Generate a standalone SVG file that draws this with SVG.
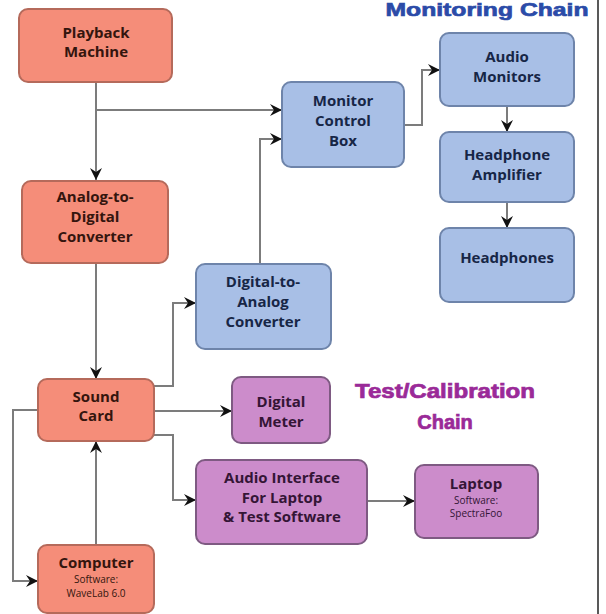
<svg xmlns="http://www.w3.org/2000/svg" width="606" height="614" viewBox="0 0 606 614">
<style>
.n{stroke-width:2}
.red{fill:#F58D79;stroke:#B56A5B}
.blue{fill:#A8BFE6;stroke:#6E84AA}
.pur{fill:#CC8CCB;stroke:#7E5A82}
.t{font-family:"Open Sans","Liberation Sans",sans-serif;font-weight:700;font-size:15px;text-anchor:middle}
.tr{fill:#34150E}
.tb{fill:#172646}
.tp{fill:#341536}
.s{font-family:"Open Sans","Liberation Sans",sans-serif;font-weight:400;font-size:10px;text-anchor:middle}
.c{fill:none;stroke:#7C7C7C;stroke-width:2;marker-end:url(#ah)}
.title{font-family:"Liberation Sans",Arial,sans-serif;font-weight:700;text-anchor:middle;stroke-width:0.7}
</style>
<defs>
<marker id="ah" markerUnits="userSpaceOnUse" markerWidth="14" markerHeight="12" refX="12" refY="6" orient="auto">
<path d="M0,0 L12,6 L0,12 L4,6 z" fill="#111"/>
</marker>
</defs>
<rect width="606" height="614" fill="#fff"/>
<line x1="598" y1="0" x2="598" y2="614" stroke="#222" stroke-width="1.5"/>
<text class="title" x="487" y="16" font-size="19" fill="#2B4BA8" stroke="#2B4BA8" textLength="203" lengthAdjust="spacingAndGlyphs">Monitoring Chain</text>
<text class="title" x="445" y="398" font-size="20" fill="#9A2A98" stroke="#9A2A98" textLength="180" lengthAdjust="spacingAndGlyphs">Test/Calibration</text>
<text class="title" x="445" y="429" font-size="20" fill="#9A2A98" stroke="#9A2A98">Chain</text>

<g id="connectors">
<path class="c" d="M96,82 V180"/>
<path class="c" d="M96,110 H282"/>
<path class="c" d="M96,263 V379"/>
<path class="c" d="M154,386 H173 V303 H196"/>
<path class="c" d="M260,264 V139 H282"/>
<path class="c" d="M404,125 H422 V70 H440"/>
<path class="c" d="M507,106 V132"/>
<path class="c" d="M507,202 V228"/>
<path class="c" d="M154,411 H232"/>
<path class="c" d="M154,435 H173 V500 H196"/>
<path class="c" d="M367,501 H415"/>
<path class="c" d="M96,545 V441"/>
<path class="c" d="M38,410 H13 V581 H38"/>
</g>

<g id="playback">
<rect class="n red" x="19" y="9" width="153" height="73" rx="9"/>
<text class="t tr" x="96" y="38">Playback</text>
<text class="t tr" x="96" y="57">Machine</text>
</g>
<g id="adc">
<rect class="n red" x="22" y="181" width="146" height="82" rx="9"/>
<text class="t tr" x="95" y="202">Analog-to-</text>
<text class="t tr" x="95" y="222">Digital</text>
<text class="t tr" x="95" y="242">Converter</text>
</g>
<g id="soundcard">
<rect class="n red" x="38" y="379" width="116" height="62" rx="9"/>
<text class="t tr" x="96" y="402">Sound</text>
<text class="t tr" x="96" y="421">Card</text>
</g>
<g id="computer">
<rect class="n red" x="38" y="545" width="116" height="68" rx="9"/>
<text class="t tr" x="96" y="568">Computer</text>
<text class="s tr" x="96" y="583">Software:</text>
<text class="s tr" x="96" y="597">WaveLab 6.0</text>
</g>
<g id="mcb">
<rect class="n blue" x="282" y="82" width="122" height="85" rx="9"/>
<text class="t tb" x="343" y="106">Monitor</text>
<text class="t tb" x="343" y="126">Control</text>
<text class="t tb" x="343" y="146">Box</text>
</g>
<g id="dac">
<rect class="n blue" x="196" y="264" width="135" height="85" rx="9"/>
<text class="t tb" x="263" y="287">Digital-to-</text>
<text class="t tb" x="263" y="307">Analog</text>
<text class="t tb" x="263" y="327">Converter</text>
</g>
<g id="monitors">
<rect class="n blue" x="440" y="33" width="134" height="73" rx="9"/>
<text class="t tb" x="507" y="62">Audio</text>
<text class="t tb" x="507" y="82">Monitors</text>
</g>
<g id="hpamp">
<rect class="n blue" x="440" y="132" width="134" height="70" rx="9"/>
<text class="t tb" x="507" y="160">Headphone</text>
<text class="t tb" x="507" y="180">Amplifier</text>
</g>
<g id="headphones">
<rect class="n blue" x="440" y="228" width="134" height="74" rx="9"/>
<text class="t tb" x="507" y="263">Headphones</text>
</g>
<g id="meter">
<rect class="n pur" x="232" y="377" width="98" height="66" rx="9"/>
<text class="t tp" x="281" y="407">Digital</text>
<text class="t tp" x="281" y="427">Meter</text>
</g>
<g id="interface">
<rect class="n pur" x="196" y="460" width="171" height="84" rx="9"/>
<text class="t tp" x="282" y="483">Audio Interface</text>
<text class="t tp" x="282" y="503">For Laptop</text>
<text class="t tp" x="282" y="522">&amp; Test Software</text>
</g>
<g id="laptop">
<rect class="n pur" x="415" y="465" width="123" height="73" rx="9"/>
<text class="t tp" x="476" y="489">Laptop</text>
<text class="s tp" x="476" y="504">Software:</text>
<text class="s tp" x="476" y="517">SpectraFoo</text>
</g>
</svg>
